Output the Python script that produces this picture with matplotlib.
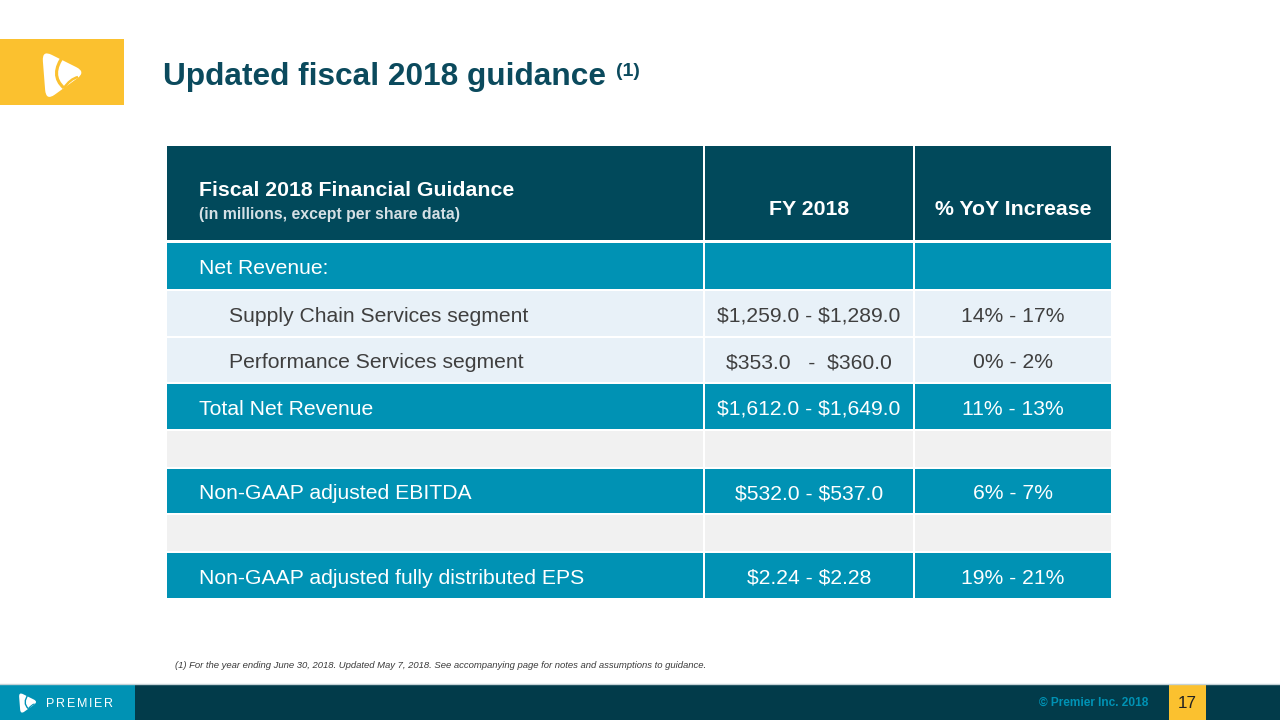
import matplotlib.pyplot as plt
from matplotlib.patches import Rectangle, PathPatch
from matplotlib.path import Path

plt.rcParams['font.family'] = ['Liberation Sans', 'DejaVu Sans']
plt.rcParams['text.parse_math'] = False

# slide text and table values
title = 'Updated fiscal 2018 guidance'
title_note = '(1)'
header_title = 'Fiscal 2018 Financial Guidance'
header_sub = '(in millions, except per share data)'
col_headers = ['FY 2018', '% YoY Increase']

row_labels = ['Net Revenue:', 'Supply Chain Services segment', 'Performance Services segment',
              'Total Net Revenue', '', 'Non-GAAP adjusted EBITDA', '',
              'Non-GAAP adjusted fully distributed EPS']
fy_values = ['', '$1,259.0 - $1,289.0', '$353.0   -  $360.0', '$1,612.0 - $1,649.0', '',
             '$532.0 - $537.0', '', '$2.24 - $2.28']
yoy_values = ['', '14% - 17%', '0% - 2%', '11% - 13%', '', '6% - 7%', '', '19% - 21%']
row_kind = ['total', 'segment', 'segment', 'total', 'blank', 'total', 'blank', 'total']

footnote = ('(1) For the year ending June 30, 2018. Updated May 7, 2018. '
            'See accompanying page for notes and assumptions to guidance.')
brand = 'PREMIER'
copyright_text = '\u00a9 Premier Inc. 2018'
page_number = '17'

# colours
DARK = '#01495b'
TEAL = '#0092b4'
LIGHT = '#e8f1f8'
GREY = '#f1f1f1'
YELLOW = '#fbc12f'
FOOT_DARK = '#023b4a'
TITLE_C = '#0b4a5d'

fill_for = {'total': TEAL, 'segment': LIGHT, 'blank': GREY}
text_for = {'total': 'white', 'segment': '#3f3f3f', 'blank': 'white'}
indent_for = {'total': 199, 'segment': 229, 'blank': 199}

col_edges = [166, 704, 914, 1112]
header_top, header_bot = 146, 241
row_heights = [48, 47, 46, 47, 38, 46, 38, 47]
BODY_FS = 15.2
cap_half = BODY_FS * 100 / 72 * 0.716 / 2


def draw_mark(ax, cx, cy, s, fg, bg):
    # rounded triangle logo pointing right, with a swoosh cut in it
    A = (cx - 0.42 * s, cy - 0.50 * s)
    B = (cx + 0.46 * s, cy - 0.06 * s)
    C = (cx - 0.34 * s, cy + 0.52 * s)
    pts = [A, B, C]
    verts, codes = [], []
    r = 0.22
    for i in range(3):
        p0 = pts[i - 1]
        p1 = pts[i]
        p2 = pts[(i + 1) % 3]
        a = (p1[0] + (p0[0] - p1[0]) * r, p1[1] + (p0[1] - p1[1]) * r)
        b = (p1[0] + (p2[0] - p1[0]) * r, p1[1] + (p2[1] - p1[1]) * r)
        verts.append(a)
        codes.append(Path.MOVETO if i == 0 else Path.LINETO)
        verts += [p1, b]
        codes += [Path.CURVE3, Path.CURVE3]
    verts.append(verts[0])
    codes.append(Path.CLOSEPOLY)
    ax.add_patch(PathPatch(Path(verts, codes), facecolor=fg, edgecolor='none'))
    sw = Path([(cx + 0.02 * s, cy - 0.40 * s), (cx - 0.28 * s, cy + 0.0 * s),
               (cx + 0.02 * s, cy + 0.26 * s)],
              [Path.MOVETO, Path.CURVE3, Path.CURVE3])
    ax.add_patch(PathPatch(sw, facecolor='none', edgecolor=bg, lw=s * 0.045))
    sw2 = Path([(cx + 0.02 * s, cy + 0.26 * s), (cx + 0.14 * s, cy + 0.08 * s),
                (cx + 0.30 * s, cy + 0.04 * s)],
               [Path.MOVETO, Path.CURVE3, Path.CURVE3])
    ax.add_patch(PathPatch(sw2, facecolor='none', edgecolor=bg, lw=s * 0.035))


fig = plt.figure(figsize=(12.8, 7.2), dpi=100)
ax = fig.add_axes([0, 0, 1, 1])
ax.set_xlim(0, 1280)
ax.set_ylim(720, 0)
ax.axis('off')

# top-left logo block
ax.add_patch(Rectangle((0, 39), 124, 66, facecolor=YELLOW, edgecolor='none'))
draw_mark(ax, 63, 75, 50, 'white', YELLOW)

# title
ax.text(163, 85, title, fontsize=22.8, fontweight='bold', color=TITLE_C, va='baseline')
ax.text(616, 76, title_note, fontsize=14, fontweight='bold', color=TITLE_C, va='baseline')

# header row
for c in range(3):
    x0, x1 = col_edges[c], col_edges[c + 1]
    ax.add_patch(Rectangle((x0 + 1, header_top), x1 - x0 - 2, header_bot - header_top - 1,
                           facecolor=DARK, edgecolor='none'))
ax.text(199, 196, header_title, fontsize=15.3, fontweight='bold', color='white', va='baseline')
ax.text(199, 219, header_sub, fontsize=11.4, fontweight='bold', color='#d5e0e5', va='baseline')
for c, h in enumerate(col_headers):
    xc = (col_edges[c + 1] + col_edges[c + 2]) / 2
    ax.text(xc, 215, h, fontsize=15.3, fontweight='bold', color='white', ha='center', va='baseline')

# body rows
y = header_bot + 1
for i, kind in enumerate(row_kind):
    h = row_heights[i]
    for c in range(3):
        x0, x1 = col_edges[c], col_edges[c + 1]
        ax.add_patch(Rectangle((x0 + 1, y + 1), x1 - x0 - 2, h - 2,
                               facecolor=fill_for[kind], edgecolor='none'))
    yb = y + h / 2 + 0.5 + cap_half
    tc = text_for[kind]
    ax.text(indent_for[kind], yb, row_labels[i], fontsize=BODY_FS, color=tc, va='baseline')
    ax.text((col_edges[1] + col_edges[2]) / 2, yb, fy_values[i], fontsize=BODY_FS, color=tc,
            ha='center', va='baseline')
    ax.text((col_edges[2] + col_edges[3]) / 2, yb, yoy_values[i], fontsize=BODY_FS, color=tc,
            ha='center', va='baseline')
    y += h

# footnote
ax.text(175, 668, footnote, fontsize=6.8, style='italic', color='#3a3a3a', va='baseline')

# footer bar
ax.plot([0, 1280], [683.5, 683.5], color='#c5d2d7', lw=1)
ax.add_patch(Rectangle((0, 684), 1280, 36, facecolor=FOOT_DARK, edgecolor='none'))
ax.add_patch(Rectangle((0, 684), 135, 36, facecolor=TEAL, edgecolor='none'))
ax.add_patch(Rectangle((1169, 684), 37, 36, facecolor=YELLOW, edgecolor='none'))
draw_mark(ax, 28, 703, 22, 'white', TEAL)

# spaced-out brand letters
renderer = fig.canvas.get_renderer()
bx = 46
for ch in brand:
    t = ax.text(bx, 707, ch, fontsize=9, color='white', va='baseline', ha='left')
    bx += t.get_window_extent(renderer).width + 1.7

ax.text(1148, 703, copyright_text, fontsize=8.6, fontweight='bold', color=TEAL,
        ha='right', va='center')
ax.text(1187.5, 703, page_number, fontsize=12.3, color='#222222', ha='center', va='center')

fig.savefig('out.png', dpi=100)
